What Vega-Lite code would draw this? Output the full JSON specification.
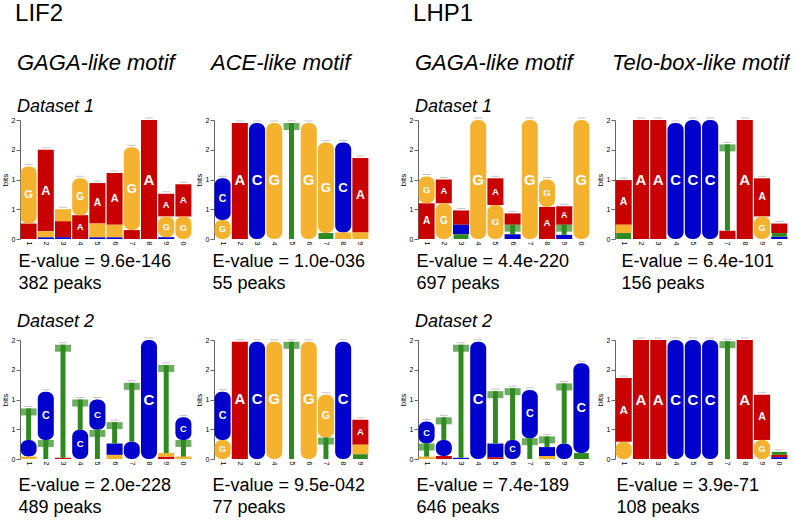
{
  "$schema": "https://vega.github.io/schema/vega-lite/v6.json",
  "padding": {"left": 1, "top": 2, "right": 0, "bottom": 0},
  "background": "white",
  "datasets": {
    "logo": [
      {"p":"a1","pos":1,"base":"A","bits":0.26},{"p":"a1","pos":1,"base":"G","bits":0.96},
      {"p":"a1","pos":2,"base":"C","bits":0.03},{"p":"a1","pos":2,"base":"G","bits":0.1},{"p":"a1","pos":2,"base":"A","bits":1.37},
      {"p":"a1","pos":3,"base":"C","bits":0.03},{"p":"a1","pos":3,"base":"A","bits":0.27},{"p":"a1","pos":3,"base":"G","bits":0.2},
      {"p":"a1","pos":4,"base":"A","bits":0.4},{"p":"a1","pos":4,"base":"G","bits":0.62},
      {"p":"a1","pos":5,"base":"C","bits":0.03},{"p":"a1","pos":5,"base":"G","bits":0.23},{"p":"a1","pos":5,"base":"A","bits":0.68},
      {"p":"a1","pos":6,"base":"C","bits":0.03},{"p":"a1","pos":6,"base":"G","bits":0.21},{"p":"a1","pos":6,"base":"A","bits":0.87},
      {"p":"a1","pos":7,"base":"A","bits":0.15},{"p":"a1","pos":7,"base":"G","bits":1.39},
      {"p":"a1","pos":8,"base":"A","bits":2.0},
      {"p":"a1","pos":9,"base":"C","bits":0.03},{"p":"a1","pos":9,"base":"G","bits":0.35},{"p":"a1","pos":9,"base":"A","bits":0.38},
      {"p":"a1","pos":10,"base":"G","bits":0.38},{"p":"a1","pos":10,"base":"A","bits":0.54},

      {"p":"a2","pos":1,"base":"G","bits":0.04},{"p":"a2","pos":1,"base":"C","bits":0.28},{"p":"a2","pos":1,"base":"T","bits":0.53},
      {"p":"a2","pos":2,"base":"T","bits":0.32},{"p":"a2","pos":2,"base":"C","bits":0.81},
      {"p":"a2","pos":3,"base":"A","bits":0.02},{"p":"a2","pos":3,"base":"T","bits":1.9},
      {"p":"a2","pos":4,"base":"C","bits":0.49},{"p":"a2","pos":4,"base":"T","bits":0.51},
      {"p":"a2","pos":5,"base":"T","bits":0.49},{"p":"a2","pos":5,"base":"C","bits":0.51},
      {"p":"a2","pos":6,"base":"G","bits":0.07},{"p":"a2","pos":6,"base":"C","bits":0.19},{"p":"a2","pos":6,"base":"T","bits":0.36},
      {"p":"a2","pos":7,"base":"C","bits":0.29},{"p":"a2","pos":7,"base":"T","bits":0.99},
      {"p":"a2","pos":8,"base":"C","bits":2.0},
      {"p":"a2","pos":9,"base":"A","bits":0.04},{"p":"a2","pos":9,"base":"G","bits":0.06},{"p":"a2","pos":9,"base":"T","bits":1.48},
      {"p":"a2","pos":10,"base":"G","bits":0.04},{"p":"a2","pos":10,"base":"T","bits":0.28},{"p":"a2","pos":10,"base":"C","bits":0.38},

      {"p":"b1","pos":1,"base":"G","bits":0.32},{"p":"b1","pos":1,"base":"C","bits":0.7},
      {"p":"b1","pos":2,"base":"A","bits":1.95},
      {"p":"b1","pos":3,"base":"C","bits":1.95},
      {"p":"b1","pos":4,"base":"G","bits":1.95},
      {"p":"b1","pos":5,"base":"T","bits":1.95},
      {"p":"b1","pos":6,"base":"G","bits":1.95},
      {"p":"b1","pos":7,"base":"T","bits":0.1},{"p":"b1","pos":7,"base":"G","bits":1.52},
      {"p":"b1","pos":8,"base":"G","bits":0.11},{"p":"b1","pos":8,"base":"C","bits":1.51},
      {"p":"b1","pos":9,"base":"G","bits":0.11},{"p":"b1","pos":9,"base":"A","bits":1.25},

      {"p":"b2","pos":1,"base":"G","bits":0.32},{"p":"b2","pos":1,"base":"C","bits":0.81},
      {"p":"b2","pos":2,"base":"A","bits":1.97},
      {"p":"b2","pos":3,"base":"C","bits":1.97},
      {"p":"b2","pos":4,"base":"G","bits":1.97},
      {"p":"b2","pos":5,"base":"T","bits":1.97},
      {"p":"b2","pos":6,"base":"G","bits":1.97},
      {"p":"b2","pos":7,"base":"T","bits":0.36},{"p":"b2","pos":7,"base":"G","bits":0.72},
      {"p":"b2","pos":8,"base":"C","bits":1.97},
      {"p":"b2","pos":9,"base":"T","bits":0.08},{"p":"b2","pos":9,"base":"G","bits":0.16},{"p":"b2","pos":9,"base":"A","bits":0.42},

      {"p":"c1","pos":1,"base":"A","bits":0.6},{"p":"c1","pos":1,"base":"G","bits":0.45},
      {"p":"c1","pos":2,"base":"G","bits":0.6},{"p":"c1","pos":2,"base":"A","bits":0.4},
      {"p":"c1","pos":3,"base":"T","bits":0.08},{"p":"c1","pos":3,"base":"C","bits":0.16},{"p":"c1","pos":3,"base":"A","bits":0.24},
      {"p":"c1","pos":4,"base":"G","bits":2.0},
      {"p":"c1","pos":5,"base":"G","bits":0.57},{"p":"c1","pos":5,"base":"A","bits":0.45},
      {"p":"c1","pos":6,"base":"C","bits":0.08},{"p":"c1","pos":6,"base":"T","bits":0.16},{"p":"c1","pos":6,"base":"A","bits":0.19},
      {"p":"c1","pos":7,"base":"G","bits":2.0},
      {"p":"c1","pos":8,"base":"A","bits":0.54},{"p":"c1","pos":8,"base":"G","bits":0.46},
      {"p":"c1","pos":9,"base":"C","bits":0.07},{"p":"c1","pos":9,"base":"T","bits":0.17},{"p":"c1","pos":9,"base":"A","bits":0.31},
      {"p":"c1","pos":10,"base":"G","bits":2.0},

      {"p":"c2","pos":1,"base":"G","bits":0.04},{"p":"c2","pos":1,"base":"T","bits":0.22},{"p":"c2","pos":1,"base":"C","bits":0.37},
      {"p":"c2","pos":2,"base":"A","bits":0.05},{"p":"c2","pos":2,"base":"C","bits":0.27},{"p":"c2","pos":2,"base":"T","bits":0.38},
      {"p":"c2","pos":3,"base":"C","bits":0.02},{"p":"c2","pos":3,"base":"T","bits":1.9},
      {"p":"c2","pos":4,"base":"C","bits":1.97},
      {"p":"c2","pos":5,"base":"A","bits":0.03},{"p":"c2","pos":5,"base":"C","bits":0.23},{"p":"c2","pos":5,"base":"T","bits":0.88},
      {"p":"c2","pos":6,"base":"C","bits":0.32},{"p":"c2","pos":6,"base":"T","bits":0.87},
      {"p":"c2","pos":7,"base":"T","bits":0.35},{"p":"c2","pos":7,"base":"C","bits":0.81},
      {"p":"c2","pos":8,"base":"G","bits":0.05},{"p":"c2","pos":8,"base":"C","bits":0.15},{"p":"c2","pos":8,"base":"T","bits":0.18},
      {"p":"c2","pos":9,"base":"C","bits":0.26},{"p":"c2","pos":9,"base":"T","bits":1.01},
      {"p":"c2","pos":10,"base":"T","bits":0.1},{"p":"c2","pos":10,"base":"C","bits":1.51},

      {"p":"d1","pos":1,"base":"T","bits":0.1},{"p":"d1","pos":1,"base":"G","bits":0.14},{"p":"d1","pos":1,"base":"A","bits":0.75},
      {"p":"d1","pos":2,"base":"A","bits":2.0},
      {"p":"d1","pos":3,"base":"A","bits":2.0},
      {"p":"d1","pos":4,"base":"C","bits":1.95},
      {"p":"d1","pos":5,"base":"C","bits":2.0},
      {"p":"d1","pos":6,"base":"C","bits":2.0},
      {"p":"d1","pos":7,"base":"A","bits":0.14},{"p":"d1","pos":7,"base":"T","bits":1.45},
      {"p":"d1","pos":8,"base":"A","bits":2.0},
      {"p":"d1","pos":9,"base":"G","bits":0.38},{"p":"d1","pos":9,"base":"A","bits":0.64},
      {"p":"d1","pos":10,"base":"C","bits":0.04},{"p":"d1","pos":10,"base":"T","bits":0.06},{"p":"d1","pos":10,"base":"A","bits":0.16},

      {"p":"d2","pos":1,"base":"G","bits":0.29},{"p":"d2","pos":1,"base":"A","bits":1.07},
      {"p":"d2","pos":2,"base":"A","bits":2.0},
      {"p":"d2","pos":3,"base":"A","bits":2.0},
      {"p":"d2","pos":4,"base":"C","bits":2.0},
      {"p":"d2","pos":5,"base":"C","bits":2.0},
      {"p":"d2","pos":6,"base":"C","bits":2.0},
      {"p":"d2","pos":7,"base":"T","bits":1.98},
      {"p":"d2","pos":8,"base":"A","bits":2.0},
      {"p":"d2","pos":9,"base":"G","bits":0.32},{"p":"d2","pos":9,"base":"A","bits":0.76},
      {"p":"d2","pos":10,"base":"C","bits":0.03},{"p":"d2","pos":10,"base":"A","bits":0.04},{"p":"d2","pos":10,"base":"T","bits":0.05}
    ]
  },
  "data": {"name": "logo"},
  "spacing": 30,
  "hconcat": [
    {
      "title": {"text": "LIF2", "fontSize": 24, "fontStyle": "normal", "anchor": "start", "frame": "bounds", "offset": 26, "dx": 14},
      "columns": 2,
      "spacing": {"column": 22, "row": 101},
      "bounds": "flush",
      "concat": [
        {
          "width": 172, "height": 119,
          "title": {"text": "GAGA-like motif", "subtitle": "Dataset 1", "offset": -1},
          "transform": [{"filter": "datum.p == 'a1'"}, {"stack": "bits", "groupby": ["pos"], "as": ["b0", "b1"]}],
          "encoding": {"x": {"field": "pos", "type": "ordinal", "scale": {"paddingInner": 0.04, "paddingOuter": 0.02}, "axis": {"title": ["E-value = 9.6e-146", "382 peaks"]}}},
          "layer": [
            {"transform": [{"filter": "datum.base == 'A'"}], "mark": {"type": "bar", "width": {"band": 0.97}}, "encoding": {"y": {"field": "b1", "type": "quantitative", "title": "bits", "scale": {"domain": [0, 2]}}, "y2": {"field": "b0"}, "color": {"field": "base", "type": "nominal", "scale": {"domain": ["A", "C", "G", "T"], "range": ["#C80000", "#0000CC", "#F4B22E", "#2E8A1E"]}, "legend": null}}},
            {"transform": [{"filter": "(datum.base == 'C' || datum.base == 'G') && datum.bits >= 0.25"}], "mark": {"type": "bar", "width": {"band": 0.97}, "cornerRadius": 7}, "encoding": {"y": {"field": "b1", "type": "quantitative", "title": "bits"}, "y2": {"field": "b0"}, "color": {"field": "base", "type": "nominal", "legend": null}}},
            {"transform": [{"filter": "(datum.base == 'C' || datum.base == 'G') && datum.bits < 0.25"}], "mark": {"type": "bar", "width": {"band": 0.97}}, "encoding": {"y": {"field": "b1", "type": "quantitative", "title": "bits"}, "y2": {"field": "b0"}, "color": {"field": "base", "type": "nominal", "legend": null}}},
            {"transform": [{"filter": "datum.base == 'T' && datum.bits < 0.15"}], "mark": {"type": "bar", "width": {"band": 0.9}}, "encoding": {"y": {"field": "b1", "type": "quantitative", "title": "bits"}, "y2": {"field": "b0"}, "color": {"field": "base", "type": "nominal", "legend": null}}},
            {"transform": [{"filter": "datum.base == 'T' && datum.bits >= 0.15"}], "mark": {"type": "bar", "width": {"band": 0.3}}, "encoding": {"y": {"field": "b1", "type": "quantitative", "title": "bits"}, "y2": {"field": "b0"}, "color": {"field": "base", "type": "nominal", "legend": null}}},
            {"transform": [{"filter": "datum.base == 'T' && datum.bits >= 0.15"}], "mark": {"type": "tick", "thickness": 7, "size": 16, "yOffset": 3.5}, "encoding": {"y": {"field": "b1", "type": "quantitative", "title": "bits"}, "color": {"field": "base", "type": "nominal", "legend": null}}},
            {"transform": [{"filter": "datum.base != 'T' && datum.bits >= 0.3"}, {"fold": ["b0", "b1"], "as": ["k", "v"]}, {"aggregate": [{"op": "mean", "field": "v", "as": "mid"}], "groupby": ["pos", "base", "bits"]}], "mark": {"type": "text", "color": "white", "fontWeight": "bold", "baseline": "middle"}, "encoding": {"y": {"field": "mid", "type": "quantitative", "title": "bits"}, "text": {"field": "base"}, "size": {"field": "bits", "type": "quantitative", "scale": {"domain": [0.3, 2], "range": [9, 15]}, "legend": null}}},
            {"transform": [{"aggregate": [{"op": "max", "field": "b1", "as": "top"}], "groupby": ["pos"]}], "mark": {"type": "tick", "thickness": 1, "size": 8, "yOffset": -2, "color": "#aaaaaa"}, "encoding": {"y": {"field": "top", "type": "quantitative", "title": "bits"}}}
          ]
        },
        {
          "width": 155, "height": 119,
          "title": {"text": "ACE-like motif", "subtitle": " ", "offset": -1},
          "transform": [{"filter": "datum.p == 'b1'"}, {"stack": "bits", "groupby": ["pos"], "as": ["b0", "b1"]}],
          "encoding": {"x": {"field": "pos", "type": "ordinal", "scale": {"paddingInner": 0.04, "paddingOuter": 0.02}, "axis": {"title": ["E-value = 1.0e-036", "55 peaks"]}}},
          "layer": [
            {"transform": [{"filter": "datum.base == 'A'"}], "mark": {"type": "bar", "width": {"band": 0.97}}, "encoding": {"y": {"field": "b1", "type": "quantitative", "title": "bits", "scale": {"domain": [0, 2]}}, "y2": {"field": "b0"}, "color": {"field": "base", "type": "nominal", "scale": {"domain": ["A", "C", "G", "T"], "range": ["#C80000", "#0000CC", "#F4B22E", "#2E8A1E"]}, "legend": null}}},
            {"transform": [{"filter": "(datum.base == 'C' || datum.base == 'G') && datum.bits >= 0.25"}], "mark": {"type": "bar", "width": {"band": 0.97}, "cornerRadius": 7}, "encoding": {"y": {"field": "b1", "type": "quantitative", "title": "bits"}, "y2": {"field": "b0"}, "color": {"field": "base", "type": "nominal", "legend": null}}},
            {"transform": [{"filter": "(datum.base == 'C' || datum.base == 'G') && datum.bits < 0.25"}], "mark": {"type": "bar", "width": {"band": 0.97}}, "encoding": {"y": {"field": "b1", "type": "quantitative", "title": "bits"}, "y2": {"field": "b0"}, "color": {"field": "base", "type": "nominal", "legend": null}}},
            {"transform": [{"filter": "datum.base == 'T' && datum.bits < 0.15"}], "mark": {"type": "bar", "width": {"band": 0.9}}, "encoding": {"y": {"field": "b1", "type": "quantitative", "title": "bits"}, "y2": {"field": "b0"}, "color": {"field": "base", "type": "nominal", "legend": null}}},
            {"transform": [{"filter": "datum.base == 'T' && datum.bits >= 0.15"}], "mark": {"type": "bar", "width": {"band": 0.3}}, "encoding": {"y": {"field": "b1", "type": "quantitative", "title": "bits"}, "y2": {"field": "b0"}, "color": {"field": "base", "type": "nominal", "legend": null}}},
            {"transform": [{"filter": "datum.base == 'T' && datum.bits >= 0.15"}], "mark": {"type": "tick", "thickness": 7, "size": 16, "yOffset": 3.5}, "encoding": {"y": {"field": "b1", "type": "quantitative", "title": "bits"}, "color": {"field": "base", "type": "nominal", "legend": null}}},
            {"transform": [{"filter": "datum.base != 'T' && datum.bits >= 0.3"}, {"fold": ["b0", "b1"], "as": ["k", "v"]}, {"aggregate": [{"op": "mean", "field": "v", "as": "mid"}], "groupby": ["pos", "base", "bits"]}], "mark": {"type": "text", "color": "white", "fontWeight": "bold", "baseline": "middle"}, "encoding": {"y": {"field": "mid", "type": "quantitative", "title": "bits"}, "text": {"field": "base"}, "size": {"field": "bits", "type": "quantitative", "scale": {"domain": [0.3, 2], "range": [9, 15]}, "legend": null}}},
            {"transform": [{"aggregate": [{"op": "max", "field": "b1", "as": "top"}], "groupby": ["pos"]}], "mark": {"type": "tick", "thickness": 1, "size": 8, "yOffset": -2, "color": "#aaaaaa"}, "encoding": {"y": {"field": "top", "type": "quantitative", "title": "bits"}}}
          ]
        },
        {
          "width": 172, "height": 119,
          "title": {"text": "Dataset 2", "fontSize": 18},
          "transform": [{"filter": "datum.p == 'a2'"}, {"stack": "bits", "groupby": ["pos"], "as": ["b0", "b1"]}],
          "encoding": {"x": {"field": "pos", "type": "ordinal", "scale": {"paddingInner": 0.04, "paddingOuter": 0.02}, "axis": {"title": ["E-value = 2.0e-228", "489 peaks"], "titlePadding": 12}}},
          "layer": [
            {"transform": [{"filter": "datum.base == 'A'"}], "mark": {"type": "bar", "width": {"band": 0.97}}, "encoding": {"y": {"field": "b1", "type": "quantitative", "title": "bits", "scale": {"domain": [0, 2]}}, "y2": {"field": "b0"}, "color": {"field": "base", "type": "nominal", "scale": {"domain": ["A", "C", "G", "T"], "range": ["#C80000", "#0000CC", "#F4B22E", "#2E8A1E"]}, "legend": null}}},
            {"transform": [{"filter": "(datum.base == 'C' || datum.base == 'G') && datum.bits >= 0.25"}], "mark": {"type": "bar", "width": {"band": 0.97}, "cornerRadius": 7}, "encoding": {"y": {"field": "b1", "type": "quantitative", "title": "bits"}, "y2": {"field": "b0"}, "color": {"field": "base", "type": "nominal", "legend": null}}},
            {"transform": [{"filter": "(datum.base == 'C' || datum.base == 'G') && datum.bits < 0.25"}], "mark": {"type": "bar", "width": {"band": 0.97}}, "encoding": {"y": {"field": "b1", "type": "quantitative", "title": "bits"}, "y2": {"field": "b0"}, "color": {"field": "base", "type": "nominal", "legend": null}}},
            {"transform": [{"filter": "datum.base == 'T' && datum.bits < 0.15"}], "mark": {"type": "bar", "width": {"band": 0.9}}, "encoding": {"y": {"field": "b1", "type": "quantitative", "title": "bits"}, "y2": {"field": "b0"}, "color": {"field": "base", "type": "nominal", "legend": null}}},
            {"transform": [{"filter": "datum.base == 'T' && datum.bits >= 0.15"}], "mark": {"type": "bar", "width": {"band": 0.3}}, "encoding": {"y": {"field": "b1", "type": "quantitative", "title": "bits"}, "y2": {"field": "b0"}, "color": {"field": "base", "type": "nominal", "legend": null}}},
            {"transform": [{"filter": "datum.base == 'T' && datum.bits >= 0.15"}], "mark": {"type": "tick", "thickness": 7, "size": 16, "yOffset": 3.5}, "encoding": {"y": {"field": "b1", "type": "quantitative", "title": "bits"}, "color": {"field": "base", "type": "nominal", "legend": null}}},
            {"transform": [{"filter": "datum.base != 'T' && datum.bits >= 0.3"}, {"fold": ["b0", "b1"], "as": ["k", "v"]}, {"aggregate": [{"op": "mean", "field": "v", "as": "mid"}], "groupby": ["pos", "base", "bits"]}], "mark": {"type": "text", "color": "white", "fontWeight": "bold", "baseline": "middle"}, "encoding": {"y": {"field": "mid", "type": "quantitative", "title": "bits"}, "text": {"field": "base"}, "size": {"field": "bits", "type": "quantitative", "scale": {"domain": [0.3, 2], "range": [9, 15]}, "legend": null}}},
            {"transform": [{"aggregate": [{"op": "max", "field": "b1", "as": "top"}], "groupby": ["pos"]}], "mark": {"type": "tick", "thickness": 1, "size": 8, "yOffset": -2, "color": "#aaaaaa"}, "encoding": {"y": {"field": "top", "type": "quantitative", "title": "bits"}}}
          ]
        },
        {
          "width": 155, "height": 119,
          "transform": [{"filter": "datum.p == 'b2'"}, {"stack": "bits", "groupby": ["pos"], "as": ["b0", "b1"]}],
          "encoding": {"x": {"field": "pos", "type": "ordinal", "scale": {"paddingInner": 0.04, "paddingOuter": 0.02}, "axis": {"title": ["E-value = 9.5e-042", "77 peaks"], "titlePadding": 12}}},
          "layer": [
            {"transform": [{"filter": "datum.base == 'A'"}], "mark": {"type": "bar", "width": {"band": 0.97}}, "encoding": {"y": {"field": "b1", "type": "quantitative", "title": "bits", "scale": {"domain": [0, 2]}}, "y2": {"field": "b0"}, "color": {"field": "base", "type": "nominal", "scale": {"domain": ["A", "C", "G", "T"], "range": ["#C80000", "#0000CC", "#F4B22E", "#2E8A1E"]}, "legend": null}}},
            {"transform": [{"filter": "(datum.base == 'C' || datum.base == 'G') && datum.bits >= 0.25"}], "mark": {"type": "bar", "width": {"band": 0.97}, "cornerRadius": 7}, "encoding": {"y": {"field": "b1", "type": "quantitative", "title": "bits"}, "y2": {"field": "b0"}, "color": {"field": "base", "type": "nominal", "legend": null}}},
            {"transform": [{"filter": "(datum.base == 'C' || datum.base == 'G') && datum.bits < 0.25"}], "mark": {"type": "bar", "width": {"band": 0.97}}, "encoding": {"y": {"field": "b1", "type": "quantitative", "title": "bits"}, "y2": {"field": "b0"}, "color": {"field": "base", "type": "nominal", "legend": null}}},
            {"transform": [{"filter": "datum.base == 'T' && datum.bits < 0.15"}], "mark": {"type": "bar", "width": {"band": 0.9}}, "encoding": {"y": {"field": "b1", "type": "quantitative", "title": "bits"}, "y2": {"field": "b0"}, "color": {"field": "base", "type": "nominal", "legend": null}}},
            {"transform": [{"filter": "datum.base == 'T' && datum.bits >= 0.15"}], "mark": {"type": "bar", "width": {"band": 0.3}}, "encoding": {"y": {"field": "b1", "type": "quantitative", "title": "bits"}, "y2": {"field": "b0"}, "color": {"field": "base", "type": "nominal", "legend": null}}},
            {"transform": [{"filter": "datum.base == 'T' && datum.bits >= 0.15"}], "mark": {"type": "tick", "thickness": 7, "size": 16, "yOffset": 3.5}, "encoding": {"y": {"field": "b1", "type": "quantitative", "title": "bits"}, "color": {"field": "base", "type": "nominal", "legend": null}}},
            {"transform": [{"filter": "datum.base != 'T' && datum.bits >= 0.3"}, {"fold": ["b0", "b1"], "as": ["k", "v"]}, {"aggregate": [{"op": "mean", "field": "v", "as": "mid"}], "groupby": ["pos", "base", "bits"]}], "mark": {"type": "text", "color": "white", "fontWeight": "bold", "baseline": "middle"}, "encoding": {"y": {"field": "mid", "type": "quantitative", "title": "bits"}, "text": {"field": "base"}, "size": {"field": "bits", "type": "quantitative", "scale": {"domain": [0.3, 2], "range": [9, 15]}, "legend": null}}},
            {"transform": [{"aggregate": [{"op": "max", "field": "b1", "as": "top"}], "groupby": ["pos"]}], "mark": {"type": "tick", "thickness": 1, "size": 8, "yOffset": -2, "color": "#aaaaaa"}, "encoding": {"y": {"field": "top", "type": "quantitative", "title": "bits"}}}
          ]
        }
      ]
    },
    {
      "title": {"text": "LHP1", "fontSize": 24, "fontStyle": "normal", "anchor": "start", "frame": "bounds", "offset": 26, "dx": 14},
      "columns": 2,
      "spacing": {"column": 25, "row": 101},
      "bounds": "flush",
      "concat": [
        {
          "width": 172, "height": 119,
          "title": {"text": "GAGA-like motif", "subtitle": "Dataset 1", "offset": -1},
          "transform": [{"filter": "datum.p == 'c1'"}, {"stack": "bits", "groupby": ["pos"], "as": ["b0", "b1"]}],
          "encoding": {"x": {"field": "pos", "type": "ordinal", "scale": {"paddingInner": 0.04, "paddingOuter": 0.02}, "axis": {"title": ["E-value = 4.4e-220", "697 peaks"]}}},
          "layer": [
            {"transform": [{"filter": "datum.base == 'A'"}], "mark": {"type": "bar", "width": {"band": 0.97}}, "encoding": {"y": {"field": "b1", "type": "quantitative", "title": "bits", "scale": {"domain": [0, 2]}}, "y2": {"field": "b0"}, "color": {"field": "base", "type": "nominal", "scale": {"domain": ["A", "C", "G", "T"], "range": ["#C80000", "#0000CC", "#F4B22E", "#2E8A1E"]}, "legend": null}}},
            {"transform": [{"filter": "(datum.base == 'C' || datum.base == 'G') && datum.bits >= 0.25"}], "mark": {"type": "bar", "width": {"band": 0.97}, "cornerRadius": 7}, "encoding": {"y": {"field": "b1", "type": "quantitative", "title": "bits"}, "y2": {"field": "b0"}, "color": {"field": "base", "type": "nominal", "legend": null}}},
            {"transform": [{"filter": "(datum.base == 'C' || datum.base == 'G') && datum.bits < 0.25"}], "mark": {"type": "bar", "width": {"band": 0.97}}, "encoding": {"y": {"field": "b1", "type": "quantitative", "title": "bits"}, "y2": {"field": "b0"}, "color": {"field": "base", "type": "nominal", "legend": null}}},
            {"transform": [{"filter": "datum.base == 'T' && datum.bits < 0.15"}], "mark": {"type": "bar", "width": {"band": 0.9}}, "encoding": {"y": {"field": "b1", "type": "quantitative", "title": "bits"}, "y2": {"field": "b0"}, "color": {"field": "base", "type": "nominal", "legend": null}}},
            {"transform": [{"filter": "datum.base == 'T' && datum.bits >= 0.15"}], "mark": {"type": "bar", "width": {"band": 0.3}}, "encoding": {"y": {"field": "b1", "type": "quantitative", "title": "bits"}, "y2": {"field": "b0"}, "color": {"field": "base", "type": "nominal", "legend": null}}},
            {"transform": [{"filter": "datum.base == 'T' && datum.bits >= 0.15"}], "mark": {"type": "tick", "thickness": 7, "size": 16, "yOffset": 3.5}, "encoding": {"y": {"field": "b1", "type": "quantitative", "title": "bits"}, "color": {"field": "base", "type": "nominal", "legend": null}}},
            {"transform": [{"filter": "datum.base != 'T' && datum.bits >= 0.3"}, {"fold": ["b0", "b1"], "as": ["k", "v"]}, {"aggregate": [{"op": "mean", "field": "v", "as": "mid"}], "groupby": ["pos", "base", "bits"]}], "mark": {"type": "text", "color": "white", "fontWeight": "bold", "baseline": "middle"}, "encoding": {"y": {"field": "mid", "type": "quantitative", "title": "bits"}, "text": {"field": "base"}, "size": {"field": "bits", "type": "quantitative", "scale": {"domain": [0.3, 2], "range": [9, 15]}, "legend": null}}},
            {"transform": [{"aggregate": [{"op": "max", "field": "b1", "as": "top"}], "groupby": ["pos"]}], "mark": {"type": "tick", "thickness": 1, "size": 8, "yOffset": -2, "color": "#aaaaaa"}, "encoding": {"y": {"field": "top", "type": "quantitative", "title": "bits"}}}
          ]
        },
        {
          "width": 173, "height": 119,
          "title": {"text": "Telo-box-like motif", "subtitle": " ", "offset": -1},
          "transform": [{"filter": "datum.p == 'd1'"}, {"stack": "bits", "groupby": ["pos"], "as": ["b0", "b1"]}],
          "encoding": {"x": {"field": "pos", "type": "ordinal", "scale": {"paddingInner": 0.04, "paddingOuter": 0.02}, "axis": {"title": ["E-value = 6.4e-101", "156 peaks"], "titleX": 6}}},
          "layer": [
            {"transform": [{"filter": "datum.base == 'A'"}], "mark": {"type": "bar", "width": {"band": 0.97}}, "encoding": {"y": {"field": "b1", "type": "quantitative", "title": "bits", "scale": {"domain": [0, 2]}}, "y2": {"field": "b0"}, "color": {"field": "base", "type": "nominal", "scale": {"domain": ["A", "C", "G", "T"], "range": ["#C80000", "#0000CC", "#F4B22E", "#2E8A1E"]}, "legend": null}}},
            {"transform": [{"filter": "(datum.base == 'C' || datum.base == 'G') && datum.bits >= 0.25"}], "mark": {"type": "bar", "width": {"band": 0.97}, "cornerRadius": 7}, "encoding": {"y": {"field": "b1", "type": "quantitative", "title": "bits"}, "y2": {"field": "b0"}, "color": {"field": "base", "type": "nominal", "legend": null}}},
            {"transform": [{"filter": "(datum.base == 'C' || datum.base == 'G') && datum.bits < 0.25"}], "mark": {"type": "bar", "width": {"band": 0.97}}, "encoding": {"y": {"field": "b1", "type": "quantitative", "title": "bits"}, "y2": {"field": "b0"}, "color": {"field": "base", "type": "nominal", "legend": null}}},
            {"transform": [{"filter": "datum.base == 'T' && datum.bits < 0.15"}], "mark": {"type": "bar", "width": {"band": 0.9}}, "encoding": {"y": {"field": "b1", "type": "quantitative", "title": "bits"}, "y2": {"field": "b0"}, "color": {"field": "base", "type": "nominal", "legend": null}}},
            {"transform": [{"filter": "datum.base == 'T' && datum.bits >= 0.15"}], "mark": {"type": "bar", "width": {"band": 0.3}}, "encoding": {"y": {"field": "b1", "type": "quantitative", "title": "bits"}, "y2": {"field": "b0"}, "color": {"field": "base", "type": "nominal", "legend": null}}},
            {"transform": [{"filter": "datum.base == 'T' && datum.bits >= 0.15"}], "mark": {"type": "tick", "thickness": 7, "size": 16, "yOffset": 3.5}, "encoding": {"y": {"field": "b1", "type": "quantitative", "title": "bits"}, "color": {"field": "base", "type": "nominal", "legend": null}}},
            {"transform": [{"filter": "datum.base != 'T' && datum.bits >= 0.3"}, {"fold": ["b0", "b1"], "as": ["k", "v"]}, {"aggregate": [{"op": "mean", "field": "v", "as": "mid"}], "groupby": ["pos", "base", "bits"]}], "mark": {"type": "text", "color": "white", "fontWeight": "bold", "baseline": "middle"}, "encoding": {"y": {"field": "mid", "type": "quantitative", "title": "bits"}, "text": {"field": "base"}, "size": {"field": "bits", "type": "quantitative", "scale": {"domain": [0.3, 2], "range": [9, 15]}, "legend": null}}},
            {"transform": [{"aggregate": [{"op": "max", "field": "b1", "as": "top"}], "groupby": ["pos"]}], "mark": {"type": "tick", "thickness": 1, "size": 8, "yOffset": -2, "color": "#aaaaaa"}, "encoding": {"y": {"field": "top", "type": "quantitative", "title": "bits"}}}
          ]
        },
        {
          "width": 172, "height": 119,
          "title": {"text": "Dataset 2", "fontSize": 18},
          "transform": [{"filter": "datum.p == 'c2'"}, {"stack": "bits", "groupby": ["pos"], "as": ["b0", "b1"]}],
          "encoding": {"x": {"field": "pos", "type": "ordinal", "scale": {"paddingInner": 0.04, "paddingOuter": 0.02}, "axis": {"title": ["E-value = 7.4e-189", "646 peaks"], "titlePadding": 12}}},
          "layer": [
            {"transform": [{"filter": "datum.base == 'A'"}], "mark": {"type": "bar", "width": {"band": 0.97}}, "encoding": {"y": {"field": "b1", "type": "quantitative", "title": "bits", "scale": {"domain": [0, 2]}}, "y2": {"field": "b0"}, "color": {"field": "base", "type": "nominal", "scale": {"domain": ["A", "C", "G", "T"], "range": ["#C80000", "#0000CC", "#F4B22E", "#2E8A1E"]}, "legend": null}}},
            {"transform": [{"filter": "(datum.base == 'C' || datum.base == 'G') && datum.bits >= 0.25"}], "mark": {"type": "bar", "width": {"band": 0.97}, "cornerRadius": 7}, "encoding": {"y": {"field": "b1", "type": "quantitative", "title": "bits"}, "y2": {"field": "b0"}, "color": {"field": "base", "type": "nominal", "legend": null}}},
            {"transform": [{"filter": "(datum.base == 'C' || datum.base == 'G') && datum.bits < 0.25"}], "mark": {"type": "bar", "width": {"band": 0.97}}, "encoding": {"y": {"field": "b1", "type": "quantitative", "title": "bits"}, "y2": {"field": "b0"}, "color": {"field": "base", "type": "nominal", "legend": null}}},
            {"transform": [{"filter": "datum.base == 'T' && datum.bits < 0.15"}], "mark": {"type": "bar", "width": {"band": 0.9}}, "encoding": {"y": {"field": "b1", "type": "quantitative", "title": "bits"}, "y2": {"field": "b0"}, "color": {"field": "base", "type": "nominal", "legend": null}}},
            {"transform": [{"filter": "datum.base == 'T' && datum.bits >= 0.15"}], "mark": {"type": "bar", "width": {"band": 0.3}}, "encoding": {"y": {"field": "b1", "type": "quantitative", "title": "bits"}, "y2": {"field": "b0"}, "color": {"field": "base", "type": "nominal", "legend": null}}},
            {"transform": [{"filter": "datum.base == 'T' && datum.bits >= 0.15"}], "mark": {"type": "tick", "thickness": 7, "size": 16, "yOffset": 3.5}, "encoding": {"y": {"field": "b1", "type": "quantitative", "title": "bits"}, "color": {"field": "base", "type": "nominal", "legend": null}}},
            {"transform": [{"filter": "datum.base != 'T' && datum.bits >= 0.3"}, {"fold": ["b0", "b1"], "as": ["k", "v"]}, {"aggregate": [{"op": "mean", "field": "v", "as": "mid"}], "groupby": ["pos", "base", "bits"]}], "mark": {"type": "text", "color": "white", "fontWeight": "bold", "baseline": "middle"}, "encoding": {"y": {"field": "mid", "type": "quantitative", "title": "bits"}, "text": {"field": "base"}, "size": {"field": "bits", "type": "quantitative", "scale": {"domain": [0.3, 2], "range": [9, 15]}, "legend": null}}},
            {"transform": [{"aggregate": [{"op": "max", "field": "b1", "as": "top"}], "groupby": ["pos"]}], "mark": {"type": "tick", "thickness": 1, "size": 8, "yOffset": -2, "color": "#aaaaaa"}, "encoding": {"y": {"field": "top", "type": "quantitative", "title": "bits"}}}
          ]
        },
        {
          "width": 173, "height": 119,
          "transform": [{"filter": "datum.p == 'd2'"}, {"stack": "bits", "groupby": ["pos"], "as": ["b0", "b1"]}],
          "encoding": {"x": {"field": "pos", "type": "ordinal", "scale": {"paddingInner": 0.04, "paddingOuter": 0.02}, "axis": {"title": ["E-value = 3.9e-71", "108 peaks"], "titleX": 1, "titlePadding": 12}}},
          "layer": [
            {"transform": [{"filter": "datum.base == 'A'"}], "mark": {"type": "bar", "width": {"band": 0.97}}, "encoding": {"y": {"field": "b1", "type": "quantitative", "title": "bits", "scale": {"domain": [0, 2]}}, "y2": {"field": "b0"}, "color": {"field": "base", "type": "nominal", "scale": {"domain": ["A", "C", "G", "T"], "range": ["#C80000", "#0000CC", "#F4B22E", "#2E8A1E"]}, "legend": null}}},
            {"transform": [{"filter": "(datum.base == 'C' || datum.base == 'G') && datum.bits >= 0.25"}], "mark": {"type": "bar", "width": {"band": 0.97}, "cornerRadius": 7}, "encoding": {"y": {"field": "b1", "type": "quantitative", "title": "bits"}, "y2": {"field": "b0"}, "color": {"field": "base", "type": "nominal", "legend": null}}},
            {"transform": [{"filter": "(datum.base == 'C' || datum.base == 'G') && datum.bits < 0.25"}], "mark": {"type": "bar", "width": {"band": 0.97}}, "encoding": {"y": {"field": "b1", "type": "quantitative", "title": "bits"}, "y2": {"field": "b0"}, "color": {"field": "base", "type": "nominal", "legend": null}}},
            {"transform": [{"filter": "datum.base == 'T' && datum.bits < 0.15"}], "mark": {"type": "bar", "width": {"band": 0.9}}, "encoding": {"y": {"field": "b1", "type": "quantitative", "title": "bits"}, "y2": {"field": "b0"}, "color": {"field": "base", "type": "nominal", "legend": null}}},
            {"transform": [{"filter": "datum.base == 'T' && datum.bits >= 0.15"}], "mark": {"type": "bar", "width": {"band": 0.3}}, "encoding": {"y": {"field": "b1", "type": "quantitative", "title": "bits"}, "y2": {"field": "b0"}, "color": {"field": "base", "type": "nominal", "legend": null}}},
            {"transform": [{"filter": "datum.base == 'T' && datum.bits >= 0.15"}], "mark": {"type": "tick", "thickness": 7, "size": 16, "yOffset": 3.5}, "encoding": {"y": {"field": "b1", "type": "quantitative", "title": "bits"}, "color": {"field": "base", "type": "nominal", "legend": null}}},
            {"transform": [{"filter": "datum.base != 'T' && datum.bits >= 0.3"}, {"fold": ["b0", "b1"], "as": ["k", "v"]}, {"aggregate": [{"op": "mean", "field": "v", "as": "mid"}], "groupby": ["pos", "base", "bits"]}], "mark": {"type": "text", "color": "white", "fontWeight": "bold", "baseline": "middle"}, "encoding": {"y": {"field": "mid", "type": "quantitative", "title": "bits"}, "text": {"field": "base"}, "size": {"field": "bits", "type": "quantitative", "scale": {"domain": [0.3, 2], "range": [9, 15]}, "legend": null}}},
            {"transform": [{"aggregate": [{"op": "max", "field": "b1", "as": "top"}], "groupby": ["pos"]}], "mark": {"type": "tick", "thickness": 1, "size": 8, "yOffset": -2, "color": "#aaaaaa"}, "encoding": {"y": {"field": "top", "type": "quantitative", "title": "bits"}}}
          ]
        }
      ]
    }
  ],
  "config": {
    "font": "Liberation Sans",
    "view": {"stroke": null},
    "title": {"fontSize": 22, "fontStyle": "italic", "fontWeight": "normal", "color": "#000", "anchor": "start", "frame": "group", "dx": -3, "offset": 5, "subtitleFontSize": 18, "subtitleFontStyle": "italic", "subtitleColor": "#000", "subtitlePadding": 23, "subtitleFont": "Liberation Sans"},
    "axisY": {"values": [0, 1, 2], "format": "d", "grid": false, "labelFontSize": 7, "labelPadding": 1, "tickSize": 4, "titleFontSize": 8, "titleFontWeight": "normal", "titlePadding": 2, "domainColor": "#666", "tickColor": "#666", "labelColor": "#000", "titleColor": "#000"},
    "axisX": {"labelAngle": 90, "labelFontSize": 7, "labelPadding": 2, "ticks": false, "domain": false, "labelExpr": "datum.value % 10", "titleFontSize": 18, "titleFontWeight": "normal", "titleColor": "#000", "titleAnchor": "start", "titleAlign": "left", "titleX": -2, "titleLineHeight": 22, "titlePadding": 8}
  }
}
